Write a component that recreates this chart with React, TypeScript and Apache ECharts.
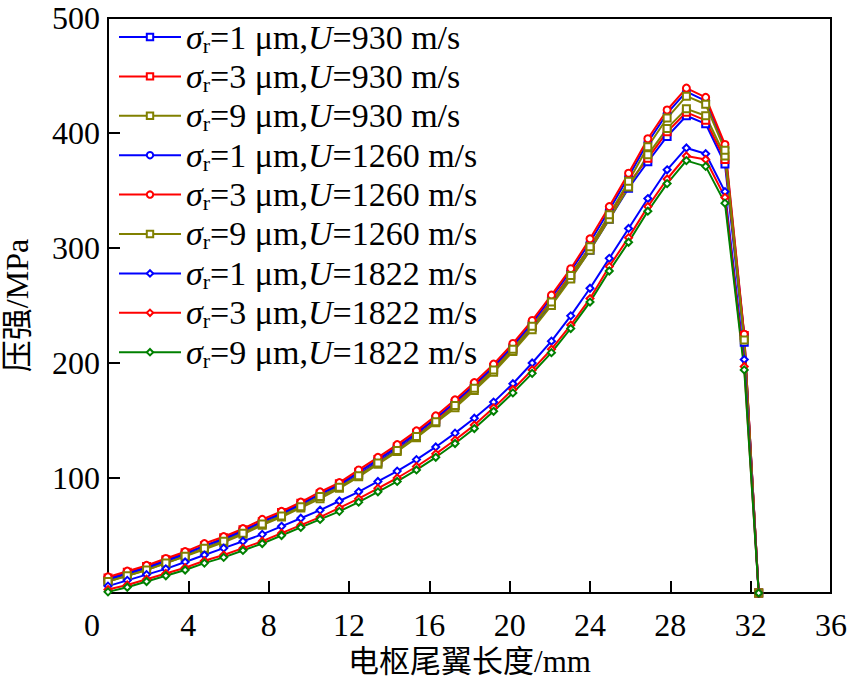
import React, { useEffect, useRef } from 'react';
import * as echarts from 'echarts';

// Armature tail length (mm) at each sampled point
const lengths = [
  0, 0.96, 1.92, 2.88, 3.84, 4.8, 5.76, 6.72, 7.68, 8.64, 9.6, 10.56, 11.52, 12.48,
  13.44, 14.4, 15.36, 16.32, 17.28, 18.24, 19.2, 20.16, 21.12, 22.08, 23.04, 24,
  24.96, 25.92, 26.88, 27.84, 28.8, 29.76, 30.72, 31.68, 32.4,
];

// Pressure (MPa), U = 930 m/s
const p930s1 = [11, 16, 21, 27, 33, 39, 46, 53, 60, 68, 76, 84, 93, 103, 114, 125, 137, 149, 163, 178, 194, 211, 231, 252, 274, 298, 325, 352, 375, 397, 415, 408, 373, 218, 0];
const p930s3 = [13, 18, 23, 29, 35, 41, 48, 55, 62, 70, 78, 86, 95, 105, 116, 127, 139, 151, 165, 180, 196, 213, 233, 254, 277, 301, 328, 356, 378, 401, 418, 411, 377, 224, 0];
const p930s9 = [10, 15, 20, 26, 32, 38, 44, 51, 59, 66, 74, 82, 91, 101, 112, 123, 135, 148, 161, 176, 192, 210, 229, 250, 273, 298, 325, 353, 381, 404, 421, 415, 380, 222, 0];

// Pressure (MPa), U = 1260 m/s
const p1260s1 = [12, 17, 22, 28, 34, 41, 47, 54, 62, 69, 77, 86, 94, 105, 116, 127, 139, 152, 166, 181, 197, 215, 235, 257, 280, 305, 333, 362, 392, 417, 436, 428, 387, 224, 0];
const p1260s3 = [14, 19, 24, 30, 36, 43, 49, 56, 64, 71, 79, 88, 96, 107, 118, 129, 141, 154, 168, 183, 199, 217, 237, 259, 282, 308, 336, 365, 395, 420, 439, 431, 390, 225, 0];
const p1260s9 = [10, 15, 20, 26, 32, 39, 45, 52, 60, 67, 75, 84, 92, 102, 113, 124, 136, 149, 163, 178, 194, 212, 232, 253, 276, 301, 329, 358, 388, 413, 432, 425, 385, 220, 0];

// Pressure (MPa), U = 1822 m/s
const p1822s1 = [6, 11, 16, 21, 27, 33, 39, 45, 51, 58, 65, 72, 80, 88, 97, 106, 116, 127, 139, 152, 166, 182, 200, 219, 241, 265, 291, 317, 343, 368, 387, 382, 349, 203, 0];
const p1822s3 = [3, 7, 12, 17, 22, 28, 33, 39, 45, 52, 59, 66, 74, 82, 91, 100, 110, 121, 133, 146, 161, 177, 194, 212, 233, 256, 284, 309, 336, 360, 380, 377, 344, 197, 0];
const p1822s9 = [1, 5, 10, 15, 20, 26, 31, 37, 43, 50, 57, 64, 71, 79, 88, 97, 107, 118, 130, 143, 158, 174, 191, 209, 230, 253, 280, 305, 332, 356, 376, 371, 339, 194, 0];

const roughness = [1, 3, 9];
const speeds = [930, 1260, 1822];

const xTicks = [0, 4, 8, 12, 16, 20, 24, 28, 32, 36];
const yTicks = [100, 200, 300, 400, 500];

const FONT = '"Liberation Serif", "Times New Roman", "Noto Sans CJK SC", serif';

const curves = [
  { sigma: roughness[0], speed: speeds[0], color: '#0000ff', symbol: 'emptyRect', values: p930s1 },
  { sigma: roughness[1], speed: speeds[0], color: '#ff0000', symbol: 'emptyRect', values: p930s3 },
  { sigma: roughness[2], speed: speeds[0], color: '#808000', symbol: 'emptyRect', values: p930s9 },
  { sigma: roughness[0], speed: speeds[1], color: '#0000ff', symbol: 'emptyCircle', values: p1260s1 },
  { sigma: roughness[1], speed: speeds[1], color: '#ff0000', symbol: 'emptyCircle', values: p1260s3 },
  { sigma: roughness[2], speed: speeds[1], color: '#808000', symbol: 'emptyRect', values: p1260s9 },
  { sigma: roughness[0], speed: speeds[2], color: '#0000ff', symbol: 'emptyDiamond', values: p1822s1 },
  { sigma: roughness[1], speed: speeds[2], color: '#ff0000', symbol: 'emptyDiamond', values: p1822s3 },
  { sigma: roughness[2], speed: speeds[2], color: '#008000', symbol: 'emptyDiamond', values: p1822s9 },
];

const seriesName = (s: number, u: number) => `σr=${s} μm,U=${u} m/s`;
const legendRich: Record<string, string> = {};
curves.forEach((c) => {
  legendRich[seriesName(c.sigma, c.speed)] =
    `{i|σ}{s|r}{n|=${c.sigma} μm,}{i|U}{n|=${c.speed} m/s}`;
});

export default function App() {
  const ref = useRef<HTMLDivElement>(null);

  useEffect(() => {
    if (!ref.current) return;
    const chart = echarts.init(ref.current, null, { renderer: 'svg' });

    const option: any = {
      animation: false,
      backgroundColor: '#ffffff',
      grid: {
        left: 108,
        right: 19,
        top: 18,
        bottom: 84,
        outerBoundsMode: 'none',
        containLabel: false,
        show: true,
        borderColor: '#000',
        borderWidth: 2,
        backgroundColor: 'transparent',
      },
      legend: {
        orient: 'vertical',
        left: 118,
        top: 20,
        padding: 0,
        itemWidth: 62,
        itemHeight: 8,
        itemGap: 3.4,
        data: curves.map((c) => seriesName(c.sigma, c.speed)),
        formatter: (name: string) => legendRich[name] || name,
        textStyle: {
          fontFamily: FONT,
          fontSize: 34,
          color: '#000',
          rich: {
            i: { fontFamily: FONT, fontSize: 34, fontStyle: 'italic', color: '#000', lineHeight: 38 },
            n: { fontFamily: FONT, fontSize: 34, color: '#000', lineHeight: 38 },
            s: { fontFamily: FONT, fontSize: 22, color: '#000', lineHeight: 10, verticalAlign: 'bottom' },
          },
        },
      },
      xAxis: {
        type: 'value',
        min: xTicks[0],
        max: xTicks[xTicks.length - 1],
        interval: 4,
        name: '电枢尾翼长度/mm',
        nameLocation: 'middle',
        nameGap: 45,
        nameTextStyle: { fontFamily: FONT, fontSize: 31, color: '#000', lineHeight: 30 },
        axisLine: { show: true, onZero: false, lineStyle: { color: '#000', width: 2 } },
        axisTick: { show: true, inside: true, length: 12, lineStyle: { color: '#000', width: 2 } },
        axisLabel: {
          margin: 16,
          fontFamily: FONT,
          fontSize: 32,
          color: '#000',
          // the origin label is drawn separately, nudged left of the y axis
          formatter: (v: number) => (v === xTicks[0] ? '' : String(v)),
        },
        splitLine: { show: false },
      },
      yAxis: {
        type: 'value',
        min: 0,
        max: yTicks[yTicks.length - 1],
        interval: 100,
        name: '压强/MPa',
        nameLocation: 'middle',
        nameGap: 75,
        nameRotate: 90,
        nameTextStyle: { fontFamily: FONT, fontSize: 32, color: '#000' },
        axisLine: { show: true, onZero: false, lineStyle: { color: '#000', width: 2 } },
        axisTick: { show: true, inside: true, length: 12, lineStyle: { color: '#000', width: 2 } },
        axisLabel: {
          margin: 8,
          fontFamily: FONT,
          fontSize: 32,
          lineHeight: 28,
          color: '#000',
          formatter: (v: number) => (yTicks.includes(v) ? String(v) : ''),
        },
        splitLine: { show: false },
      },
      series: curves.map((c) => ({
        name: seriesName(c.sigma, c.speed),
        type: 'line',
        data: lengths.map((x, i) => [x, c.values[i]]),
        symbol: c.symbol,
        symbolSize: 7,
        showAllSymbol: true,
        clip: false,
        color: c.color,
        lineStyle: { color: c.color, width: 2 },
        itemStyle: { color: c.color, borderWidth: 1.5 },
        emphasis: { disabled: true },
      })),
    };

    chart.setOption(option);

    // Origin label "0", placed just left of where the axes meet
    const origin = chart.convertToPixel({ gridIndex: 0 }, [xTicks[0], 0]) as number[];
    chart.setOption({
      graphic: [
        {
          type: 'text',
          x: origin[0] - 16,
          y: origin[1] + 16,
          style: {
            text: String(xTicks[0]),
            fontFamily: FONT,
            fontSize: 32,
            fill: '#000',
            align: 'center',
            verticalAlign: 'top',
          },
        },
      ],
    });

    return () => chart.dispose();
  }, []);

  return (
    <div
      ref={ref}
      style={{ position: 'fixed', left: 0, top: 0, width: 850, height: 677, background: '#fff' }}
    />
  );
}
